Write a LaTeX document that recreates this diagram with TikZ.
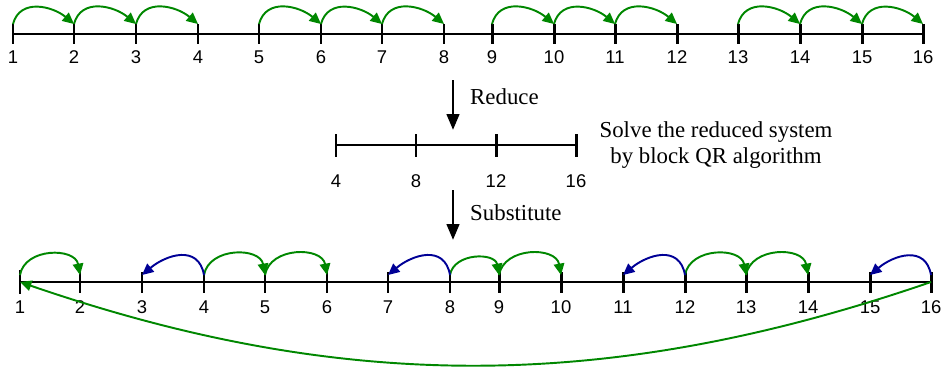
\documentclass[tikz,border=0pt]{standalone}
\usepackage{fontspec}
\setmainfont{Liberation Serif}
\newfontfamily\numfont{Liberation Sans}
\usetikzlibrary{arrows.meta,positioning}
\definecolor{fwdgreen}{RGB}{0,135,0}
\definecolor{backblue}{RGB}{0,0,150}

\begin{document}
\begin{tikzpicture}[x=0.02cm,y=0.02cm,every node/.style={font=\fontsize{13}{14.5}\selectfont},
  num/.style={font=\numfont\fontsize{10.5}{12}\selectfont,inner sep=1pt},
  axis/.style={line width=1.1pt},
  tick/.style={line width=1.7pt},
  fwd/.style={fwdgreen,line width=1.1pt,-{Triangle[length=6.5pt,width=6pt]}},
  back/.style={backblue,line width=1.1pt,-{Triangle[length=6.5pt,width=6pt]}},
  bigarrow/.style={line width=1.7pt,-{Triangle[length=9pt,width=7pt]}}]
  \useasboundingbox (0,0) rectangle (943,-366);
  % full system
  \foreach \i/\x in {1/13,2/74,3/136,4/198,5/259,6/321,7/382,8/444,9/492,10/554,11/615,12/677,13/738,14/800,15/862,16/923} {
    \draw[tick] (\x,-24) -- (\x,-44);
    \coordinate (a\i) at (\x,-24);
    \coordinate (l\i) at (\x,-34);
    \node[num] (na\i) at (\x,-57) {\i};
  }
  \draw[axis] (l1) -- (l16);
  \foreach \s/\t in {1/2,2/3,3/4,5/6,6/7,7/8,9/10,10/11,11/12,13/14,14/15,15/16}
    \draw[fwd] (a\s) to[out=75,in=140,looseness=1.15] (a\t);
  % reduced system
  \coordinate (red0) at (453,-80); \coordinate (red1) at (453,-130);
  \draw[bigarrow] (red0) -- (red1);
  \node[anchor=west] (reduce) at (464,-97) {Reduce};
  \foreach \i/\x in {4/336,8/416,12/496,16/576} {
    \draw[tick] (\x,-134) -- (\x,-157);
    \coordinate (r\i) at (\x,-145);
    \node[num] (nr\i) at (\x,-181) {\i};
  }
  \draw[axis] (r4) -- (r16);
  \node[align=center] (solve) at (716,-145) {Solve the reduced system\\by block QR algorithm};
  \coordinate (sub0) at (453,-190); \coordinate (sub1) at (453,-240);
  \draw[bigarrow] (sub0) -- (sub1);
  \node[anchor=west] (subst) at (464,-213) {Substitute};
  % back substitution
  \foreach \i/\x in {1/20,2/80,3/142,4/204,5/265,6/327,7/388,8/450,9/499,10/561,11/623,12/685,13/746,14/808,15/870,16/931} {
    \draw[tick] (\x,-272) -- (\x,-293);
    \coordinate (b\i) at (\x,-275);
    \coordinate (m\i) at (\x,-282);
    \node[num] (nb\i) at (\x,-307) {\i};
  }
  \draw[tick] (20,-270) -- (20,-294);
  \draw[axis] (m1) -- (m16);
  \foreach \s/\t in {1/2,4/5,5/6,8/9,9/10,12/13,13/14}
    \draw[fwd] (b\s) to[out=80,in=100,looseness=1.2] (b\t);
  \foreach \s/\t in {4/3,8/7,12/11,16/15}
    \draw[back] (b\s) to[out=100,in=40,looseness=1.3] (b\t);
  \draw[fwd] (m16) to[out=-161,in=-19,looseness=0.96] (m1);
\end{tikzpicture}
\end{document}
